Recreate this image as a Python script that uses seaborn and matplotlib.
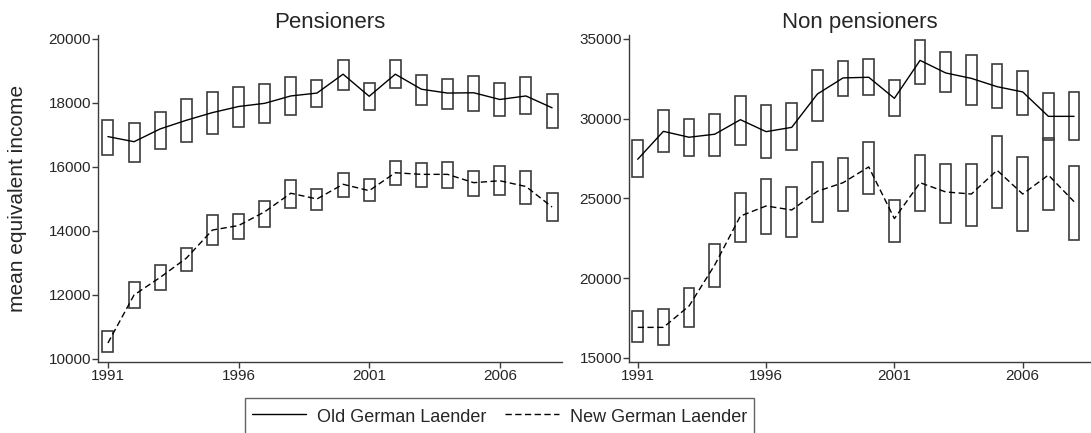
import matplotlib
matplotlib.use("Agg")
import matplotlib.pyplot as plt
from matplotlib.lines import Line2D
import numpy as np
import pandas as pd
import seaborn as sns

years = np.arange(1991, 2009)

# Pensioners
pens_old = [16950, 16790, 17190, 17460, 17700, 17890, 17990, 18220, 18310, 18900,
            18210, 18900, 18430, 18310, 18320, 18110, 18220, 17850]
pens_old_hi = [17470, 17390, 17730, 18110, 18330, 18510, 18580, 18800, 18720, 19330,
               18610, 19350, 18860, 18760, 18840, 18610, 18800, 18290]
pens_old_lo = [16380, 16150, 16560, 16770, 17020, 17240, 17390, 17630, 17870, 18400,
               17780, 18460, 17950, 17810, 17760, 17580, 17650, 17210]
pens_new = [10500, 12000, 12550, 13150, 14030, 14170, 14600, 15180, 15000, 15460,
            15260, 15820, 15770, 15770, 15510, 15570, 15390, 14750]
pens_new_hi = [10880, 12400, 12940, 13480, 14500, 14520, 14930, 15580, 15300, 15800,
               15620, 16180, 16120, 16150, 15890, 16020, 15890, 15200]
pens_new_lo = [10220, 11600, 12170, 12740, 13570, 13750, 14140, 14730, 14660, 15070,
               14930, 15450, 15370, 15350, 15090, 15110, 14830, 14300]

# Non pensioners
nonp_old = [27460, 29210, 28840, 29030, 29940, 29190, 29460, 31550, 32560, 32600,
            31280, 33660, 32870, 32530, 32010, 31680, 30150, 30150]
nonp_old_hi = [28650, 30530, 30000, 30300, 31450, 30880, 30990, 33040, 33620, 33770,
               32450, 34940, 34190, 34020, 33430, 33010, 31590, 31660]
nonp_old_lo = [26370, 27900, 27670, 27640, 28340, 27560, 28020, 29840, 31430, 31470,
               30150, 32200, 31660, 30840, 30700, 30240, 28650, 28690]
nonp_new = [16920, 16920, 18260, 20830, 23900, 24530, 24280, 25450, 25990, 26980,
            23740, 25990, 25410, 25280, 26770, 25280, 26470, 24800]
nonp_new_hi = [17930, 18050, 19410, 22170, 25360, 26240, 25720, 27310, 27540, 28540,
               24910, 27730, 27160, 27180, 28900, 27600, 28810, 27060]
nonp_new_lo = [15980, 15800, 16960, 19430, 22290, 22760, 22590, 23530, 24200, 25260,
               22270, 24220, 23480, 23280, 24400, 22960, 24280, 22400]

titles = ["Pensioners", "Non pensioners"]
legend_labels = ["Old German Laender", "New German Laender"]

sns.set_style("ticks")
plt.rcParams["font.family"] = ["Liberation Sans", "DejaVu Sans"]

fig = plt.figure(figsize=(10.91, 4.33), dpi=100)
ax_l = fig.add_axes([98 / 1091, 1 - 362 / 433, 464 / 1091, 327 / 433])
ax_r = fig.add_axes([629 / 1091, 1 - 362 / 433, 462 / 1091, 327 / 433])

panels = [
    (ax_l, pens_old, pens_old_lo, pens_old_hi, pens_new, pens_new_lo, pens_new_hi),
    (ax_r, nonp_old, nonp_old_lo, nonp_old_hi, nonp_new, nonp_new_lo, nonp_new_hi),
]
dash = (4.5, 2.5)
gray = "#3c3c3c"

for i, (ax, old, old_lo, old_hi, new, new_lo, new_hi) in enumerate(panels):
    df = pd.DataFrame({
        "year": np.concatenate([years, years]),
        "income": np.concatenate([old, new]),
        "region": [legend_labels[0]] * len(years) + [legend_labels[1]] * len(years),
    })
    sns.lineplot(data=df, x="year", y="income", style="region",
                 dashes={legend_labels[0]: "", legend_labels[1]: dash},
                 color="black", linewidth=1.0, legend=False, ax=ax, zorder=3)
    for lo, hi in [(old_lo, old_hi), (new_lo, new_hi)]:
        lo = np.array(lo)
        hi = np.array(hi)
        ax.bar(years, hi - lo, bottom=lo, width=0.42, fill=False,
               edgecolor=gray, linewidth=1.2, zorder=2)
    ax.set_title(titles[i], fontsize=16, pad=5)
    ax.set_xlabel("")
    ax.set_ylabel("")
    ax.set_xticks([1991, 1996, 2001, 2006])
    sns.despine(ax=ax)
    for s in ["left", "bottom"]:
        ax.spines[s].set_color(gray)
        ax.spines[s].set_linewidth(1.0)
    ax.tick_params(axis="both", labelsize=11, length=4, width=1.0, color=gray, pad=1)

ax_l.set_xlim(1990.62, 2008.38)
ax_l.set_ylim(9906, 20125)
ax_l.set_yticks(np.arange(10000, 20001, 2000))
ax_r.set_xlim(1990.66, 2008.66)
ax_r.set_ylim(14749, 35250)
ax_r.set_yticks(np.arange(15000, 35001, 5000))

fig.text(18 / 1091, 1 - 198 / 433, "mean equivalent income", rotation=90,
         ha="center", va="center", fontsize=15)

handles = [Line2D([], [], color="black", linewidth=1.0),
           Line2D([], [], color="black", linewidth=1.0, linestyle=(0, dash))]
leg = fig.legend(handles, legend_labels, loc="upper left",
                 bbox_to_anchor=(245 / 1091, 1 - 398 / 433), ncol=2, fontsize=13,
                 frameon=True, fancybox=False, handlelength=3.0, handleheight=1.5,
                 handletextpad=0.6, columnspacing=1.0, borderpad=0.4,
                 borderaxespad=0)
leg.get_frame().set_edgecolor(gray)
leg.get_frame().set_linewidth(1.0)

fig.savefig("out.png", dpi=100)
